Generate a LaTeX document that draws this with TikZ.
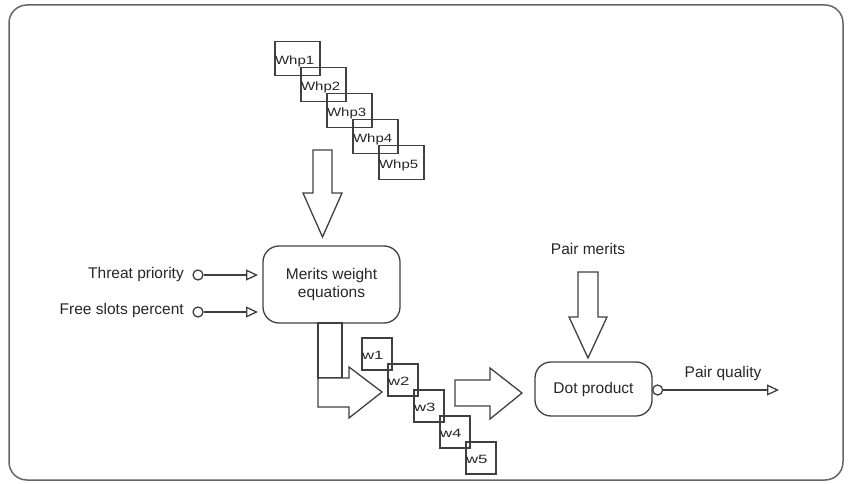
\documentclass[tikz,border=0pt]{standalone}
\usepackage{fontspec}
\setmainfont{Liberation Sans}
\usetikzlibrary{arrows.meta,calc}
\begin{document}
\begin{tikzpicture}[x=1pt,y=-1pt,
  ln/.style={draw=black!75, line width=1.3pt},
  tbox/.style={ln, rectangle, minimum width=45pt, minimum height=34pt, inner sep=0pt},
  wbox/.style={ln, rectangle, minimum width=30pt, minimum height=32pt, inner sep=0pt},
  btxt/.style={anchor=west, inner sep=0.5pt, font=\fontsize{12}{13}\selectfont, text=black!85},
  rbox/.style={ln, rectangle, rounded corners=16pt, align=center, font=\fontsize{15.5}{18}\selectfont, text=black!85},
  bigarrow/.style={ln, fill=white, line join=miter},
  lbl/.style={font=\fontsize{15.5}{18}\selectfont, text=black!85, inner sep=0pt},
  port/.style={ln, circle, minimum size=10pt, inner sep=0pt, fill=white},
  conn/.style={ln, -{Triangle[open, length=12pt, width=11pt, line width=1.3pt]}},
  frame/.style={draw=black!60, line width=1.5pt, rounded corners=18pt}
]
\useasboundingbox (0,0) rectangle (848,484);
\draw[frame] (9,5) rectangle (843,480);

% Whp boxes
\foreach \i in {1,...,5}{
  \node[tbox] (whp\i) at ({297.5+26*(\i-1)},{58.5+26*(\i-1)}) {};
  \node[btxt] (whpt\i) at ($(whp\i.west)+(0,3)$) {\scalebox{1.25}[1]{Whp\i}};
}

% big arrow down into merits
\coordinate (a1top) at (322.5,150);
\coordinate (a1tip) at (322.5,237);
\draw[bigarrow] ($(a1top)+(-9.5,0)$) -- ($(a1top)+(9.5,0)$) -- (332,193) -- (342,193)
  -- (a1tip) -- (303,193) -- (313,193) -- cycle;

% Merits box
\node[rbox, minimum width=137pt, minimum height=77pt] (merits) at (331.5,284.5) {Merits weight\\equations};

% inputs
\node[port] (p1) at (198,275) {};
\node[port] (p2) at (198,312) {};
\node[lbl, anchor=east] (l1) at (184,274) {Threat priority};
\node[lbl, anchor=east] (l2) at (184,310) {Free slots percent};
\coordinate (e1) at (258,275);
\coordinate (e2) at (258,312);
\draw[conn] (p1.east) -- (e1);
\draw[conn] (p2.east) -- (e2);

% elbow arrow from merits
\draw[bigarrow] (318,323) rectangle (342,378);
\draw[bigarrow] (318,378) -- (349,378) -- (349,367) -- (382,392) -- (349,418) -- (349,407) -- (318,407) -- cycle;

% w boxes
\foreach \i in {1,...,5}{
  \node[wbox] (w\i) at ({377+26*(\i-1)},{354+26*(\i-1)}) {};
  \node[btxt] (wt\i) at ($(w\i.west)+(0,1)$) {\scalebox{1.4}[1]{w\i}};
}

% arrow to dot product
\draw[bigarrow] (455,380) -- (490,380) -- (490,368) -- (522,393) -- (490,419) -- (490,406) -- (455,406) -- cycle;

% Dot product box
\node[rbox, minimum width=117pt, minimum height=54pt] (dot) at (593.5,389) {Dot product};

% Pair merits
\node[lbl] (pm) at (588,249) {Pair merits};
\draw[bigarrow] (578,272) -- (598,272) -- (598,317) -- (607,317) -- (588,358) -- (569,317) -- (578,317) -- cycle;

% output
\node[port] (p3) at ($(dot.east)+(5,1)$) {};
\coordinate (out) at (779,390);
\draw[conn] (p3.east) -- (out);
\node[lbl] (pq) at (723,373) {Pair quality};
\end{tikzpicture}
\end{document}
